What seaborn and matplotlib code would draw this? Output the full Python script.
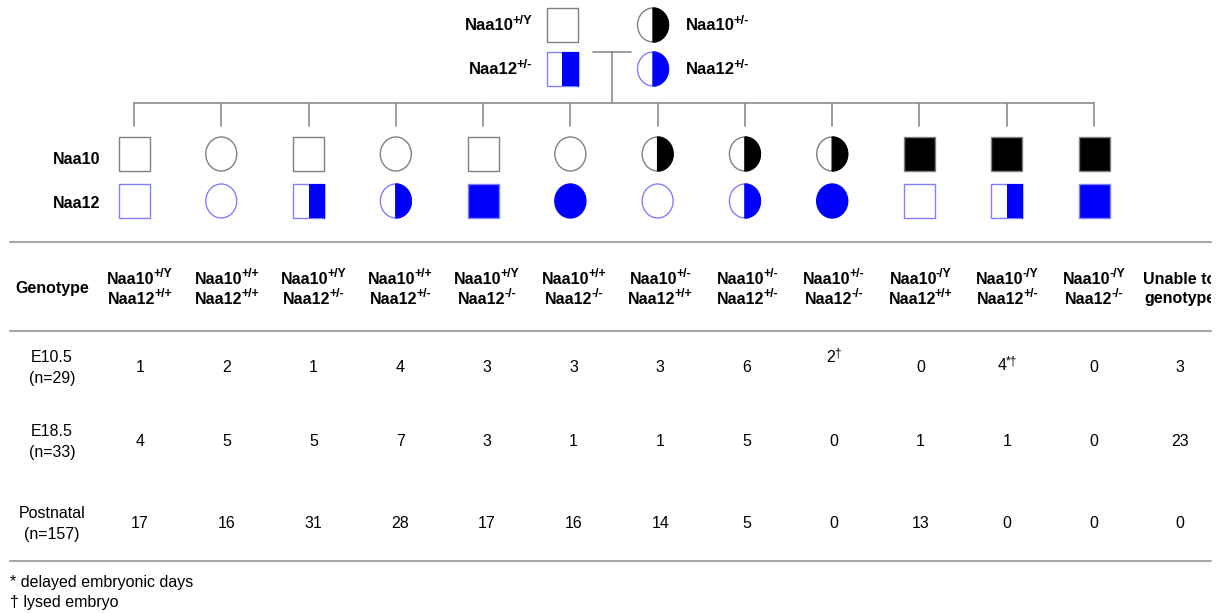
import numpy as np
import matplotlib
matplotlib.use("Agg")
import matplotlib.pyplot as plt
from matplotlib.patches import Rectangle, Ellipse, Polygon
from matplotlib.transforms import Bbox, TransformedBbox
import seaborn as sns

# ---- data -------------------------------------------------------------
naa10_geno = ["+/Y", "+/+", "+/Y", "+/+", "+/Y", "+/+", "+/-", "+/-", "+/-", "-/Y", "-/Y", "-/Y"]
naa12_geno = ["+/+", "+/+", "+/-", "+/-", "-/-", "-/-", "+/+", "+/-", "-/-", "+/+", "+/-", "-/-"]
stage_names = ["E10.5", "E18.5", "Postnatal"]
stage_n = [29, 33, 157]
counts_e105 = [1, 2, 1, 4, 3, 3, 3, 6, 2, 0, 4, 0, 3]
counts_e185 = [4, 5, 5, 7, 3, 1, 1, 5, 0, 1, 1, 0, 23]
counts_post = [17, 16, 31, 28, 17, 16, 14, 5, 0, 13, 0, 0, 0]
marks_e105 = ["", "", "", "", "", "", "", "", "\u2020", "", "*\u2020", "", ""]
footnotes = ["* delayed embryonic days", "\u2020 lysed embryo"]
father = ("+/Y", "+/-")
mother = ("+/-", "+/-")

# ---- style ------------------------------------------------------------
sns.set_theme(style="white")
plt.rcParams["font.family"] = ["Liberation Sans", "DejaVu Sans"]
plt.rcParams["text.color"] = "black"
LINE = "#8c8c8c"
EDGE10 = "#808080"
EDGE12 = "#8080ff"
BLUE = "#0000ff"
HEAD = 11.5
BODY = 11.5

fig = plt.figure(figsize=(12.2, 6.13), dpi=100)
ax = fig.add_axes([0, 0, 1, 1])
ax.set_xlim(0, 1220)
ax.set_ylim(613, 0)
ax.axis("off")
renderer = fig.canvas.get_renderer()
clip = TransformedBbox(Bbox([[0, 0], [1211, 613]]), ax.transData)


def clipped(t):
    t.set_clip_on(True)
    t.set_clip_box(clip)
    return t


def sup_text(x, y, base, sup, size, weight="bold", ha="center",
             sup_scale=0.77, raise_px=None):
    """Base text followed by a raised superscript, anchored on (x, y) centre line."""
    t1 = clipped(ax.text(0, y, base, fontsize=size, fontweight=weight,
                         ha="left", va="center"))
    if raise_px is None:
        raise_px = size * 0.45
    t2 = clipped(ax.text(0, y - raise_px, sup, fontsize=size * sup_scale,
                         fontweight=weight, ha="left", va="center"))
    w1 = t1.get_window_extent(renderer).width - 1
    w2 = t2.get_window_extent(renderer).width if sup else 0
    total = w1 + w2
    if ha == "center":
        x0 = x - total / 2
    elif ha == "right":
        x0 = x - total
    else:
        x0 = x
    t1.set_x(x0)
    t2.set_x(x0 + w1)


def fill_kind(g):
    if g in ("+/Y", "+/+"):
        return "none"
    if g == "+/-":
        return "half"
    return "full"


def draw_symbol(cx, cy, male, kind, edge, fill, w=31, h=34):
    if male:
        if kind == "full":
            ax.add_patch(Rectangle((cx - w / 2, cy - h / 2), w, h, facecolor=fill,
                                   edgecolor=edge, lw=1.0))
            return
        ax.add_patch(Rectangle((cx - w / 2, cy - h / 2), w, h, facecolor="white",
                               edgecolor=edge, lw=1.0))
        if kind == "half":
            ax.add_patch(Rectangle((cx, cy - h / 2), w / 2, h, facecolor=fill,
                                   edgecolor="none"))
            ax.plot([cx + w / 2, cx + w / 2], [cy - h / 2, cy + h / 2], color=fill, lw=1.0)
    else:
        if kind == "full":
            ax.add_patch(Ellipse((cx, cy), w, h, facecolor=fill, edgecolor=fill, lw=1.0))
            return
        ax.add_patch(Ellipse((cx, cy), w, h, facecolor="white", edgecolor=edge, lw=1.0))
        if kind == "half":
            th = np.linspace(-np.pi / 2, np.pi / 2, 60)
            pts = np.column_stack([cx + (w / 2) * np.cos(th), cy + (h / 2) * np.sin(th)])
            ax.add_patch(Polygon(pts, closed=True, facecolor=fill, edgecolor=fill, lw=1.0))


# ---- parents ----------------------------------------------------------
fx, mx = 562, 653
row10_y, row12_y = 25, 69
draw_symbol(fx, row10_y, True, fill_kind(father[0]), EDGE10, "black")
draw_symbol(fx, row12_y, True, fill_kind(father[1]), EDGE12, BLUE)
draw_symbol(mx, row10_y, False, fill_kind(mother[0]), EDGE10, "black")
draw_symbol(mx, row12_y, False, fill_kind(mother[1]), EDGE12, BLUE)
sup_text(532, row10_y + 1, "Naa10", father[0], 12, ha="right")
sup_text(532, row12_y + 1, "Naa12", father[1], 12, ha="right")
sup_text(686, row10_y + 1, "Naa10", mother[0], 12, ha="left")
sup_text(686, row12_y + 1, "Naa12", mother[1], 12, ha="left")

# mating line and descent
ax.plot([593, 631], [52, 52], color=LINE, lw=1.2)
ax.plot([612, 612], [52, 103], color=LINE, lw=1.2)

# ---- offspring --------------------------------------------------------
kid_x = np.linspace(134, 1094, len(naa10_geno))
ax.plot([kid_x[0], kid_x[-1]], [103, 103], color=LINE, lw=1.2)
for i, x in enumerate(kid_x):
    ax.plot([x, x], [103, 126], color=LINE, lw=1.2)
    male = "Y" in naa10_geno[i]
    draw_symbol(x, 154, male, fill_kind(naa10_geno[i]), EDGE10, "black")
    draw_symbol(x, 201, male, fill_kind(naa12_geno[i]), EDGE12, BLUE)

ax.text(100, 159, "Naa10", fontsize=11.5, fontweight="bold", ha="right", va="center")
ax.text(100, 204, "Naa12", fontsize=11.5, fontweight="bold", ha="right", va="center")

# ---- table ------------------------------------------------------------
for yl in (242, 331, 561):
    ax.plot([10, 1211], [yl, yl], color="#a6a6a6", lw=1.5)

col_x = list(np.linspace(140, 1094, len(naa10_geno))) + [1180]
ax.text(52, 288, "Genotype", fontsize=HEAD, fontweight="bold", ha="center", va="center")
for i in range(len(naa10_geno)):
    sup_text(col_x[i], 279, "Naa10", naa10_geno[i], HEAD)
    sup_text(col_x[i], 299, "Naa12", naa12_geno[i], HEAD)
clipped(ax.text(col_x[-1], 279, "Unable to", fontsize=HEAD, fontweight="bold",
                ha="center", va="center"))
clipped(ax.text(col_x[-1], 299, "genotype", fontsize=HEAD, fontweight="bold",
                ha="center", va="center"))

row_y = [367, 442, 523]
all_counts = [counts_e105, counts_e185, counts_post]
for r, (name, n, vals) in enumerate(zip(stage_names, stage_n, all_counts)):
    y = row_y[r]
    ax.text(52, y - 10, name, fontsize=BODY, ha="center", va="center")
    ax.text(52, y + 11, f"(n={n})", fontsize=BODY, ha="center", va="center")
    for c, v in enumerate(vals):
        mark = marks_e105[c] if r == 0 else ""
        if mark:
            yy = y - 10 if mark == "\u2020" else y - 1
            sup_text(col_x[c], yy, str(v), mark, BODY, weight="normal",
                     sup_scale=0.75, raise_px=4)
        else:
            ax.text(col_x[c], y, str(v), fontsize=BODY, ha="center", va="center")

for k, line in enumerate(footnotes):
    ax.text(10, 583 + 20 * k, line, fontsize=BODY, ha="left", va="center")

fig.savefig("out.png", dpi=100, facecolor="white")
